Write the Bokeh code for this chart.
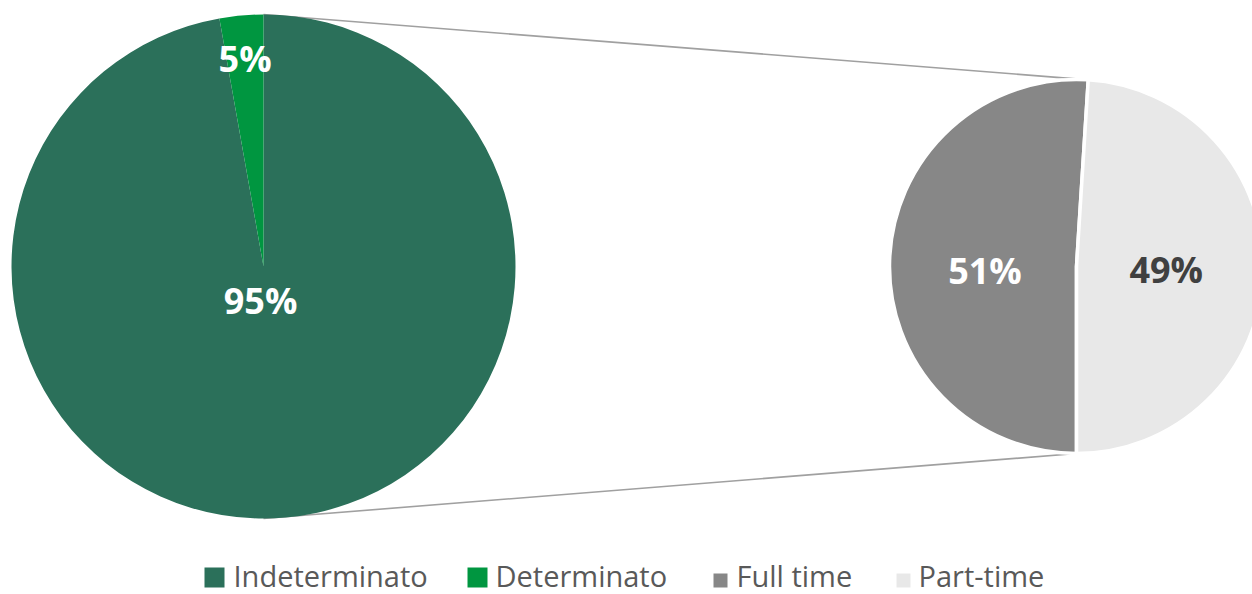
import math
from bokeh.plotting import figure
from bokeh.models import Range1d, ColumnDataSource
from bokeh.core.properties import value
from bokeh.embed import file_html
from bokeh.resources import INLINE

# ---------------- data ----------------
main_categories = ["Indeterminato", "Determinato"]
main_shares = [97.2, 2.8]            # drawn slice sizes (%)
main_labels = ["95%", "5%"]          # data labels as printed
main_colors = ["#2B705A", "#009640"]

sub_categories = ["Full time", "Part-time"]
sub_shares = [51, 49]
sub_labels = ["51%", "49%"]
sub_colors = ["#878787", "#E8E8E8"]

# ---------------- layout / style ----------------
W, H = 1252, 594
FONT = "Open Sans"

def sx(x):  # screen x -> data x
    return x

def sy(y):  # screen y -> data y
    return H - y

main_c = (sx(263), sy(266))
main_r = 252
sub_c = (sx(1076), sy(266))
sub_r = 187

p = figure(width=W, height=H, output_backend="svg", toolbar_location=None,
           x_range=Range1d(0, W), y_range=Range1d(0, H), min_border=0,
           background_fill_color="white", border_fill_color="white")
p.axis.visible = False
p.grid.visible = False
p.outline_line_color = None


def slices(shares, start_deg):
    """clockwise from start_deg; returns anticlock (start, end) in radians"""
    total = float(sum(shares))
    out = []
    cum = 0.0
    for s in shares:
        a0 = start_deg - (cum + s) / total * 360.0
        a1 = start_deg - cum / total * 360.0
        out.append((math.radians(a0), math.radians(a1)))
        cum += s
    return out

main_ang = slices(main_shares, 90)
sub_ang = slices(sub_shares, 270)

# connector lines (drawn first, behind pies)
top_main = (main_c[0], main_c[1] + main_r)
bot_main = (main_c[0], main_c[1] - main_r)
a_top = sub_ang[0][0]   # start of Full time (upper split)
a_bot = sub_ang[0][1]   # end of Full time (bottom)
top_sub = (sub_c[0] + sub_r * math.cos(a_top), sub_c[1] + sub_r * math.sin(a_top))
bot_sub = (sub_c[0] + sub_r * math.cos(a_bot), sub_c[1] + sub_r * math.sin(a_bot))
p.segment(x0=[top_main[0], bot_main[0]], y0=[top_main[1], bot_main[1]],
          x1=[top_sub[0], bot_sub[0]], y1=[top_sub[1], bot_sub[1]],
          line_color="#A0A0A0", line_width=1.6)

# main pie
src_main = ColumnDataSource(dict(
    start=[a[0] for a in main_ang], end=[a[1] for a in main_ang],
    color=main_colors, name=main_categories))
p.wedge(x=main_c[0], y=main_c[1], radius=main_r, start_angle="start", end_angle="end",
        fill_color="color", line_color=None, source=src_main)

# sub pie
src_sub = ColumnDataSource(dict(
    start=[a[0] for a in sub_ang], end=[a[1] for a in sub_ang],
    color=sub_colors, name=sub_categories))
p.wedge(x=sub_c[0], y=sub_c[1], radius=sub_r, start_angle="start", end_angle="end",
        fill_color="color", line_color="white", line_width=3.5, source=src_sub)

# data labels (radial fraction, angular nudge in degrees)
def label_positions(c, r, angs, fracs, nudges):
    xs, ys = [], []
    for (a0, a1), f, n in zip(angs, fracs, nudges):
        m = (a0 + a1) / 2 + math.radians(n)
        xs.append(c[0] + f * r * math.cos(m))
        ys.append(c[1] + f * r * math.sin(m))
    return xs, ys

mx, my = label_positions(main_c, main_r, main_ang, [0.135, 0.83], [-10, 0])
p.text(x=mx, y=my, text=main_labels, text_font=value(FONT), text_font_style="bold",
       text_font_size="36px", text_color="white", text_align="center",
       text_baseline="middle")

ux, uy = label_positions(sub_c, sub_r, sub_ang, [0.49, 0.48], [4.5, 0])
p.text(x=ux, y=uy, text=sub_labels, text_font=value(FONT), text_font_style="bold",
       text_font_size="36px", text_color=["white", "#404040"], text_align="center",
       text_baseline="middle")

# legend (manual, like the original)
leg_names = main_categories + sub_categories
leg_colors = main_colors + sub_colors
leg_marker_x = [sx(214), sx(477), sx(720), sx(903)]
leg_marker_y = [sy(577), sy(577), sy(580), sy(580)]
leg_marker_size = [20, 20, 14, 14]
leg_text_x = [sx(233), sx(495), sx(736), sx(918)]
p.rect(x=leg_marker_x, y=leg_marker_y, width=leg_marker_size, height=leg_marker_size,
       width_units="screen", height_units="screen", fill_color=leg_colors, line_color=None)
p.text(x=leg_text_x, y=[sy(575)] * 4, text=leg_names, text_font=value(FONT),
       text_font_size="29px", text_color="#595959", text_align="left",
       text_baseline="middle")

open("out.html", "w").write(file_html(p, INLINE))
